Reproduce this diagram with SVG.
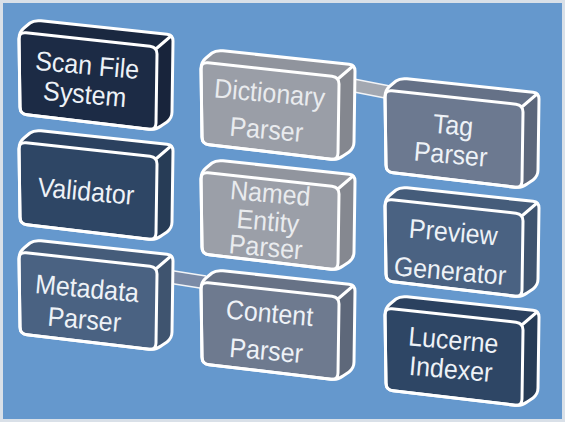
<svg xmlns="http://www.w3.org/2000/svg" xmlns:xlink="http://www.w3.org/1999/xlink" width="565" height="422" viewBox="0 0 565 422">
<style>
.lbl{font-family:"Liberation Sans",Arial,sans-serif;font-size:25px;text-anchor:middle;fill:#eef2f7}
.lbl.g{fill:#e9ebee}
.ol{fill:none;stroke:#ffffff;stroke-width:3;stroke-linejoin:round;stroke-linecap:round}
.bar{stroke:none}
.barl{fill:none;stroke:#f2f4f7;stroke-width:1.5}
</style>
<defs>
<path id="sil" d="M1,75 L0,7 Q0,0 5,-4 L11,-9 Q15,-12 22,-11.2 L148,2.3 Q154,3 154,9 L153,80 Q153,86 148,90 L142,94 Q137,98 130,97.2 L8,82.8 Q1,82 1,75 Z"/>
<path id="front" d="M0,7 Q0,0 7,0.8 L131,14.2 Q138,15 138,22 L137,91 Q137,98 130,97.2 L8,82.8 Q1,82 1,75 Z"/>
<g id="box">
<use xlink:href="#sil" fill="currentColor"/>
<path d="M138,15 L154,3 L153,86 L137,98 Z" fill="#000" fill-opacity="0.14"/>
<path d="M0,0 L15,-12 L154,3 L138,15 Z" fill="#000" fill-opacity="0.06"/>
<use xlink:href="#front" fill="currentColor"/>
<use xlink:href="#sil" class="ol"/>
<use xlink:href="#front" class="ol"/>
<path d="M138,16 L152,4" class="ol"/>
</g>
</defs>
<rect x="1.5" y="1.5" width="562" height="419" fill="#6598cd" stroke="#d9e0e8" stroke-width="3"/>
<g id="connectors">
<path class="bar" d="M354,79 L390,86 L390,99 L354,92 Z" fill="#a3a8b1"/>
<path class="barl" d="M354,79 L390,86 M354,92 L390,99"/>
<path class="bar" d="M168,270 L206,276 L206,289 L168,283 Z" fill="#7b8ba7"/>
<path class="barl" d="M168,270 L206,276 M168,283 L206,289"/>
</g>
<g id="scan" transform="translate(19,32)" style="color:#1c2b45">
<use xlink:href="#box"/>
<g transform="rotate(5,69,49) translate(0,49) scale(1,1.08) translate(0,-49)"><text class="lbl" x="67" y="43">Scan File</text><text class="lbl" x="67" y="70">System</text></g>
</g>
<g id="validator" transform="translate(19,142)" style="color:#2e4665">
<use xlink:href="#box"/>
<g transform="rotate(5,69,49) translate(0,49) scale(1,1.08) translate(0,-49)"><text class="lbl" x="67" y="58">Validator</text></g>
</g>
<g id="metadata" transform="translate(19,252)" style="color:#4a6282">
<use xlink:href="#box"/>
<g transform="rotate(5,69,49) translate(0,49) scale(1,1.08) translate(0,-49)"><text class="lbl" x="67" y="46">Metadata</text><text class="lbl" x="67" y="75">Parser</text></g>
</g>
<g id="dictionary" transform="translate(201,62)" style="color:#9a9ea7">
<use xlink:href="#box"/>
<g transform="rotate(5,69,49) translate(0,49) scale(1,1.08) translate(0,-49)"><text class="lbl g" x="67" y="41">Dictionary</text><text class="lbl g" x="67" y="75">Parser</text></g>
</g>
<g id="named-entity" transform="translate(201,172)" style="color:#9b9fa8">
<use xlink:href="#box"/>
<g transform="rotate(5,69,49) translate(0,49) scale(1,1.08) translate(0,-49)"><text class="lbl g" x="67" y="32">Named</text><text class="lbl g" x="67" y="58">Entity</text><text class="lbl g" x="67" y="82">Parser</text></g>
</g>
<g id="content" transform="translate(201,282)" style="color:#6e7a8f">
<use xlink:href="#box"/>
<g transform="rotate(5,69,49) translate(0,49) scale(1,1.08) translate(0,-49)"><text class="lbl" x="67" y="41">Content</text><text class="lbl" x="67" y="76">Parser</text></g>
</g>
<g id="tag" transform="translate(385,90)" style="color:#6c7990">
<use xlink:href="#box"/>
<g transform="rotate(5,69,49) translate(0,49) scale(1,1.08) translate(0,-49)"><text class="lbl" x="67" y="45">Tag</text><text class="lbl" x="67" y="72">Parser</text></g>
</g>
<g id="preview" transform="translate(385,199)" style="color:#4a6282">
<use xlink:href="#box"/>
<g transform="rotate(5,69,49) translate(0,49) scale(1,1.08) translate(0,-49)"><text class="lbl" x="67" y="43">Preview</text><text class="lbl" x="67" y="79">Generator</text></g>
</g>
<g id="lucene" transform="translate(385,308)" style="color:#2e4665">
<use xlink:href="#box"/>
<g transform="rotate(5,69,49) translate(0,49) scale(1,1.08) translate(0,-49)"><text class="lbl" x="67" y="42">Lucerne</text><text class="lbl" x="67" y="69">Indexer</text></g>
</g>
</svg>
